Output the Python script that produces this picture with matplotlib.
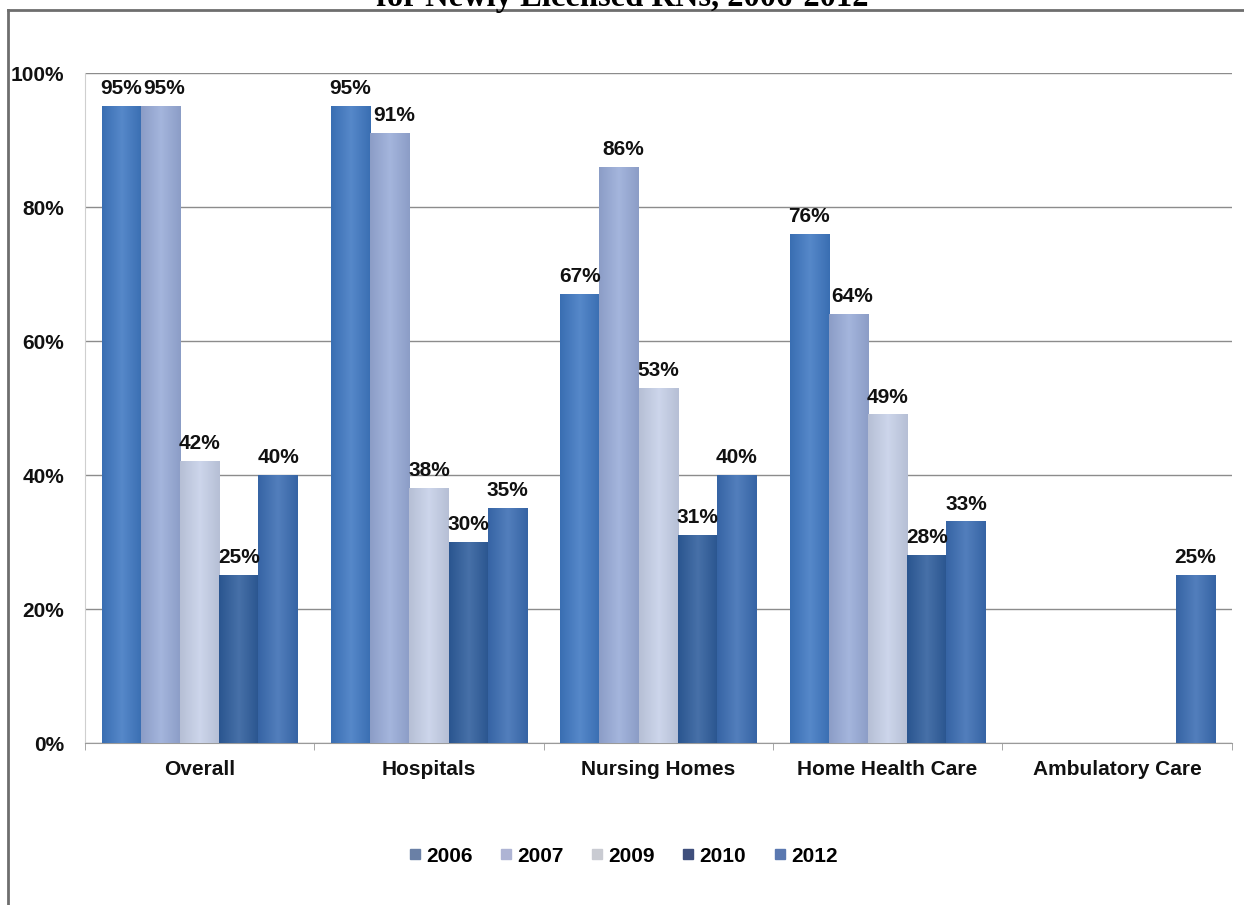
import matplotlib.pyplot as plt
import numpy as np
from matplotlib.colors import to_rgb
from matplotlib.lines import Line2D

plt.rcParams["font.family"] = ["Liberation Sans", "DejaVu Sans"]

categories = ["Overall", "Hospitals", "Nursing Homes", "Home Health Care", "Ambulatory Care"]
years = ["2006", "2007", "2009", "2010", "2012"]
# percent of newly licensed RNs; None = no data for that year
values = {
    "2006": [95, 95, 67, 76, None],
    "2007": [95, 91, 86, 64, None],
    "2009": [42, 38, 53, 49, None],
    "2010": [25, 30, 31, 28, None],
    "2012": [40, 35, 40, 33, 25],
}
yticks = [0, 20, 40, 60, 80, 100]

bar_colors = {
    "2006": "#3f78c2",
    "2007": "#98abd8",
    "2009": "#c6d0e8",
    "2010": "#2e5d9c",
    "2012": "#3b6db3",
}
legend_colors = {
    "2006": "#6a80a6",
    "2007": "#aeb4d4",
    "2009": "#c9cbd2",
    "2010": "#3f4f7c",
    "2012": "#5a78b0",
}


def shaded(ax, patch, color):
    # soft left-to-right shading, lighter in the middle of the bar
    base = np.array(to_rgb(color))
    t = np.linspace(0, 1, 40)
    k = 1 - np.abs(2 * t - 1)
    rgb = np.outer(1 - k, base * 0.92) + np.outer(k, base + (1 - base) * 0.12)
    x0, w, h = patch.get_x(), patch.get_width(), patch.get_height()
    ax.imshow(rgb[None, :, :], extent=(x0, x0 + w, 0, h), aspect="auto",
              interpolation="bilinear", zorder=3)


fig = plt.figure(figsize=(12.44, 9.05), dpi=100)
ax = fig.add_axes([0.0683, 0.179, 0.9217, 0.740])

x = np.arange(len(categories))
w = 0.171
for i, yr in enumerate(years):
    vals = values[yr]
    idx = [k for k, v in enumerate(vals) if v is not None]
    hs = [vals[k] for k in idx]
    xs = x[idx] + (i - 2) * w
    bars = ax.bar(xs, hs, width=w, color=bar_colors[yr], zorder=2, linewidth=0)
    for p in bars:
        shaded(ax, p, bar_colors[yr])
    dx = 3 if yr == "2007" else 0
    for xi, h in zip(xs, hs):
        ax.annotate(f"{h}%", (xi, h), xytext=(dx, 6), textcoords="offset points",
                    ha="center", va="bottom", fontsize=15, fontweight="bold",
                    color="#111111", zorder=5)

ax.set_xlim(-0.5, len(categories) - 0.5)
ax.set_ylim(0, 100)
ax.set_yticks(yticks)
ax.set_yticklabels([f"{t}%" for t in yticks])
ax.set_xticks(x)
ax.set_xticklabels(categories)
ax.tick_params(axis="both", length=0, labelsize=15, colors="#111111")
ax.tick_params(axis="y", pad=15)
ax.tick_params(axis="x", pad=12)
for lab in ax.get_xticklabels() + ax.get_yticklabels():
    lab.set_fontweight("bold")

# boundary ticks between categories
ax.set_xticks(np.arange(len(categories) + 1) - 0.5, minor=True)
ax.tick_params(axis="x", which="minor", length=5, color="#999999")

ax.grid(axis="y", color="#8c8c8c", lw=1.0, zorder=0)
for s in ["top", "right"]:
    ax.spines[s].set_visible(False)
ax.spines["left"].set_color("#cfcfcf")
ax.spines["bottom"].set_color("#9a9a9a")

handles = [Line2D([], [], marker="s", ls="", markersize=7, color=legend_colors[yr]) for yr in years]
fig.legend(handles, years, loc="center", bbox_to_anchor=(0.5, 0.054), ncol=5, frameon=False,
           prop={"weight": "bold", "size": 15}, handlelength=0.8, handletextpad=0.15,
           columnspacing=1.2)

# outer frame of the chart area
fig.add_artist(Line2D([8 / 1244, 1], [1 - 10 / 905, 1 - 10 / 905], transform=fig.transFigure,
                      color="#6e6e6e", lw=2))
fig.add_artist(Line2D([8 / 1244, 8 / 1244], [0, 1 - 10 / 905], transform=fig.transFigure,
                      color="#6e6e6e", lw=2))

fig.text(0.5, 1 - 6 / 905, "for Newly Licensed RNs, 2006-2012", ha="center", va="baseline",
         family=["Liberation Serif", "DejaVu Serif"], fontweight="bold", fontsize=23.5)

fig.savefig("out.png", dpi=100, facecolor="white")
